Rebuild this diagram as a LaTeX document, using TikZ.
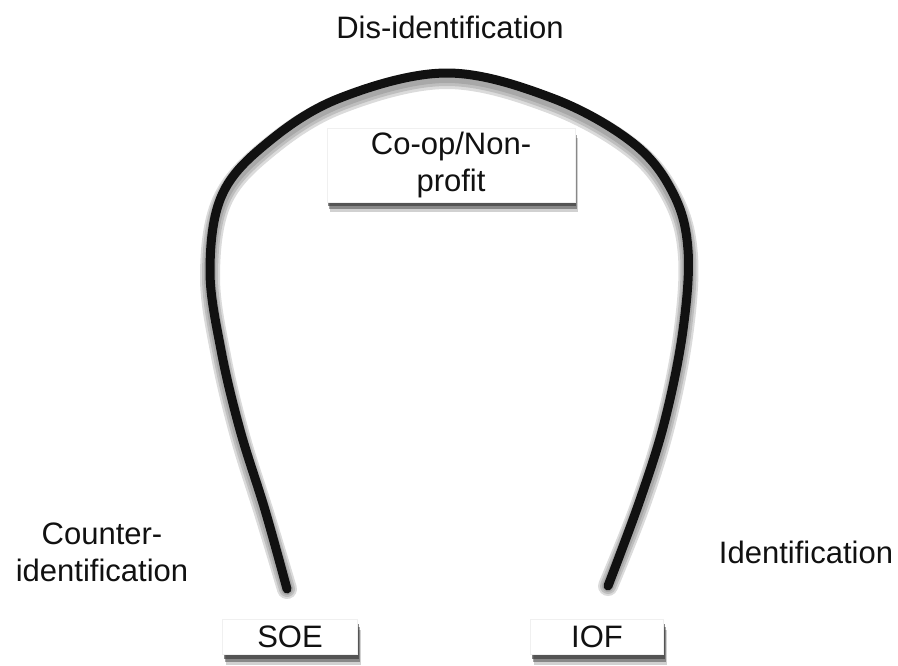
\documentclass[tikz,border=0pt]{standalone}
\usepackage{fontspec}
\setmainfont{Liberation Sans}
\usepackage{xcolor}
\usetikzlibrary{shadows}
\definecolor{ink}{HTML}{111111}
\definecolor{halo}{HTML}{5A5A5A}
\tikzset{
  archLine/.style={draw=ink, line width=9pt, line cap=round, line join=round},
  archHalo/.style={draw=halo, line cap=round, opacity=0.22},
  typeBox/.style={fill=white, draw=black!6, inner sep=0pt, text=ink,
    font=\fontsize{31}{37}\selectfont, align=center,
    general shadow={shadow xshift=3pt, shadow yshift=-10pt, fill=black, opacity=0.18},
    general shadow={shadow xshift=2pt, shadow yshift=-7pt, fill=black, opacity=0.35},
    general shadow={shadow xshift=1pt, shadow yshift=-4pt, fill=black!80, opacity=0.6}},
  idLabel/.style={text=ink, inner sep=0pt, align=center, font=\fontsize{31}{37}\selectfont}
}
\def\archPts{(soeEnd) (265,510) (240,430) (221,350) (210,270) (222,195) (267,143)
    (340,98) (447,73) (552,98) (633,143) (673,193) (688,250) (683,330)
    (665,420) (640,500) (iofEnd)}

\begin{document}
\begin{tikzpicture}[x=1pt, y=-1pt]
  \useasboundingbox (0,0) rectangle (898,665);

  % ends of the arch
  \coordinate (soeEnd) at (287,589);
  \coordinate (iofEnd) at (608,586);

  % soft shadow under the arch
  \foreach \w/\d in {20/6, 16/5, 12/4}
    \draw[archHalo, line width=\w pt, yshift=-\d pt] plot[smooth, tension=0.6] coordinates {\archPts};
  \draw[archLine] plot[smooth, tension=0.6] coordinates {\archPts};

  \node[typeBox, minimum width=248pt, minimum height=74pt] (coop) at (451,165) {Co-op/Non-\\profit};
  \node[typeBox, minimum width=135pt, minimum height=35pt] (soe) at (290,637) {SOE};
  \node[typeBox, minimum width=133pt, minimum height=35pt] (iof) at (597,637) {IOF};

  \node[idLabel] (disId) at (450,27) {Dis-identification};
  \node[idLabel] (counterId) at (102,552) {Counter-\\identification};
  \node[idLabel] (plainId) at (806,552) {Identification};
\end{tikzpicture}
\end{document}
